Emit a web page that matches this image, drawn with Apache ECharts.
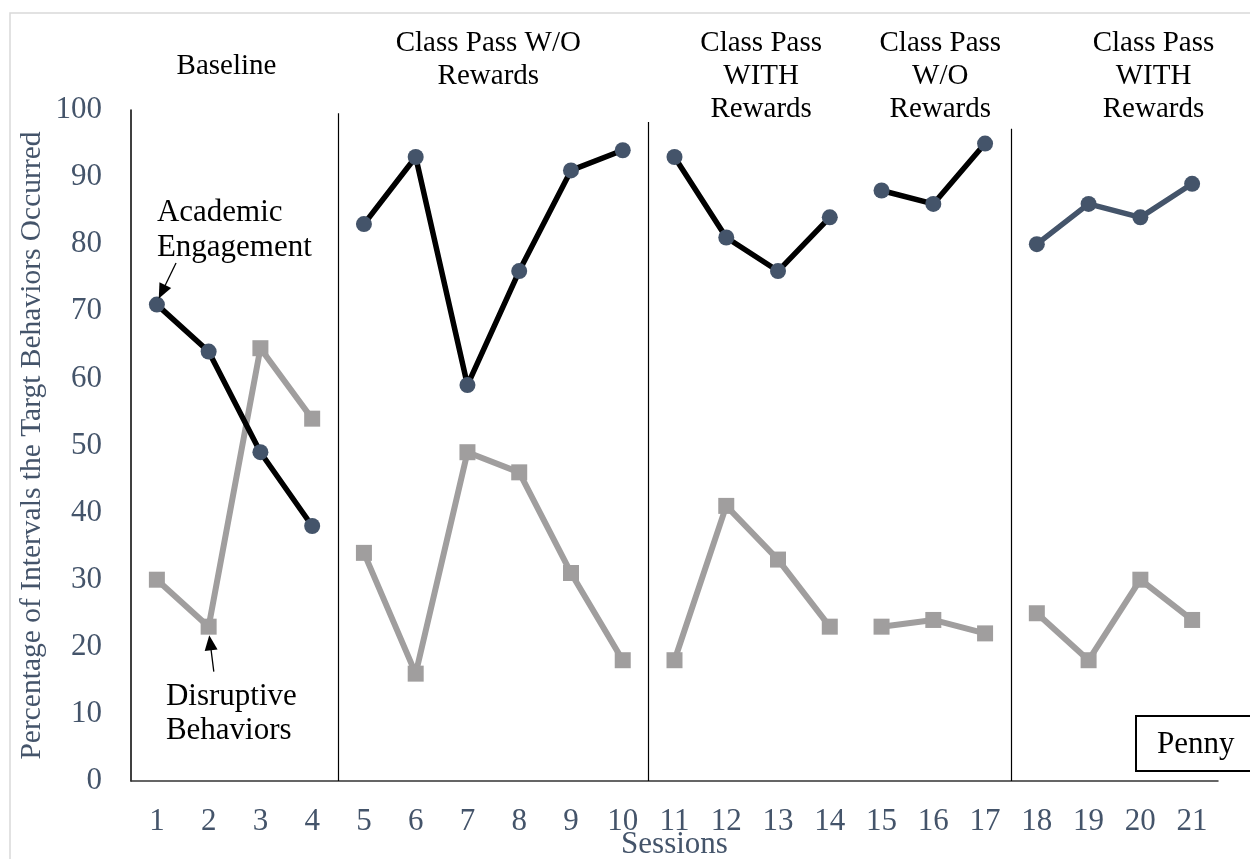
<!DOCTYPE html>
<html><head><meta charset="utf-8">
<script src="https://cdn.jsdelivr.net/npm/echarts@6/dist/echarts.min.js"></script>
<style>html,body{margin:0;padding:0;background:#fff}#c{width:1250px;height:859px}</style>
</head><body><div id="c"></div>
<script>
const sessions = ['1','2','3','4','5','6','7','8','9','10','11','12','13','14','15','16','17','18','19','20','21'];
const academic = [71,64,49,38,83,93,59,76,91,94,93,81,76,84,88,86,95,80,86,84,89];
const disruptive = [30,23,64.5,54,34,16,49,46,31,18,18,41,33,23,23,24,22,25,18,30,24];
const yTicks = [0,10,20,30,40,50,60,70,80,90,100];
const phaseRanges = [[1,4],[5,10],[11,14],[15,17],[18,21]];
const phaseTitles = ['Baseline','Class Pass W/O\nRewards','Class Pass\nWITH\nRewards','Class Pass\nW/O\nRewards','Class Pass\nWITH\nRewards'];
const phaseLineTops = [99.5, 98.2, 96.7, 97.2];
const phaseLineBottoms = [0, 0, -0.8, 0];
const academicLineColors = ['#000000','#000000','#000000','#000000','#44546a'];

const FONT = '"Liberation Serif", "Times New Roman", serif';
const AX = '#44546a';
const GRAY = '#a09e9e';

const chart = echarts.init(document.getElementById('c'), null, {renderer:'canvas'});

const series = [];
phaseRanges.forEach((r, i) => {
  const pick = arr => arr.map((v, k) => (k+1 >= r[0] && k+1 <= r[1]) ? v : null);
  series.push({
    type:'line', name:'Disruptive', data: pick(disruptive), connectNulls:false,
    symbol:'rect', symbolSize:16, z:2,
    lineStyle:{color:GRAY, width:6}, itemStyle:{color:GRAY}
  });
  series.push({
    type:'line', name:'Academic', data: pick(academic), connectNulls:false,
    symbol:'circle', symbolSize:16, z:3,
    lineStyle:{color:academicLineColors[i], width:5.5}, itemStyle:{color:AX}
  });
});

// phase change lines and annotation arrows, on hidden value x axis
const boundaries = phaseRanges.slice(1).map(r => r[0] - 0.5);
series.push({
  type:'scatter', xAxisIndex:1, data:[], silent:true,
  markLine:{
    silent:true, animation:false,
    label:{show:false},
    data: boundaries.map((b, i) => [
      {coord:[b, phaseLineBottoms[i]], symbol:'none', lineStyle:{color:'#000', width:1.2, type:'solid'}},
      {coord:[b, phaseLineTops[i]], symbol:'none'}
    ]).concat([
      [{coord:[1.37, 77.2], symbol:'none', lineStyle:{color:'#000', width:1.3, type:'solid'}},
       {coord:[1.10, 72.9], symbol:'triangle', symbolSize:[13,15]}],
      [{coord:[2.10, 16.3], symbol:'none', lineStyle:{color:'#000', width:1.3, type:'solid'}},
       {coord:[2.03, 20.6], symbol:'triangle', symbolSize:[13,15]}]
    ])
  }
});

chart.setOption({
  animation:false,
  backgroundColor:'#fff',
  grid:{left:131, right:32, top:110, bottom:78, outerBoundsMode:'none', containLabel:false},
  xAxis:[{
    type:'category', data:sessions, boundaryGap:true,
    name:'Sessions', nameLocation:'middle', nameGap:48, nameMoveOverlap:false,
    nameTextStyle:{fontFamily:FONT, fontSize:31, color:AX},
    axisLine:{lineStyle:{color:'#333', width:1.5}},
    axisTick:{show:false},
    axisLabel:{fontFamily:FONT, fontSize:31, color:AX, margin:25, interval:0},
    splitLine:{show:false}
  },{
    type:'value', min:0.5, max:21.5, show:false
  }],
  yAxis:{
    type:'value', min:yTicks[0], max:yTicks[yTicks.length-1], interval:10,
    name:'Percentage of Intervals the Targt Behaviors Occurred',
    nameLocation:'middle', nameGap:84, nameMoveOverlap:false,
    nameTextStyle:{fontFamily:FONT, fontSize:29.5, color:AX},
    axisLine:{show:true, lineStyle:{color:'#000', width:1.5}},
    axisTick:{show:false},
    axisLabel:{fontFamily:FONT, fontSize:31, color:AX, margin:29},
    splitLine:{show:false}
  },
  series: series
});

// text graphics placed through the axis scale
const px = v => chart.convertToPixel({xAxisIndex:1, yAxisIndex:0}, [v, 0])[0];
const titleCenters = phaseRanges.map(r => px((r[0] + r[1]) / 2));
const titleOffsets = [-8, -5, 9, 7, 39];
const titleTops = [50, 27, 27, 27, 27];
const graphics = [
  {type:'rect', silent:true, shape:{x:10, y:13, width:1400, height:1000},
   style:{fill:'none', stroke:'#d9d9d9', lineWidth:1.5}, z:-10}
];
phaseTitles.forEach((t, i) => {
  graphics.push({type:'text', silent:true, x:titleCenters[i] + titleOffsets[i], y:titleTops[i],
    style:{text:t, font:'29px ' + FONT, fill:'#000', align:'center', verticalAlign:'top', lineHeight:33}});
});
graphics.push({type:'text', silent:true, x:px(1), y:195.5,
  style:{text:'Academic\nEngagement', font:'31px ' + FONT, fill:'#000', align:'left', verticalAlign:'top', lineHeight:35}});
graphics.push({type:'text', silent:true, x:px(1) + 9, y:680,
  style:{text:'Disruptive\nBehaviors', font:'31px ' + FONT, fill:'#000', align:'left', verticalAlign:'top', lineHeight:34}});
graphics.push({type:'rect', silent:true, shape:{x:1136, y:716, width:200, height:55},
  style:{fill:'#fff', stroke:'#000', lineWidth:2}});
graphics.push({type:'text', silent:true, x:1157, y:745,
  style:{text:'Penny', font:'31px ' + FONT, fill:'#000', align:'left', verticalAlign:'middle'}});
chart.setOption({graphic:graphics});
</script>
</body></html>
